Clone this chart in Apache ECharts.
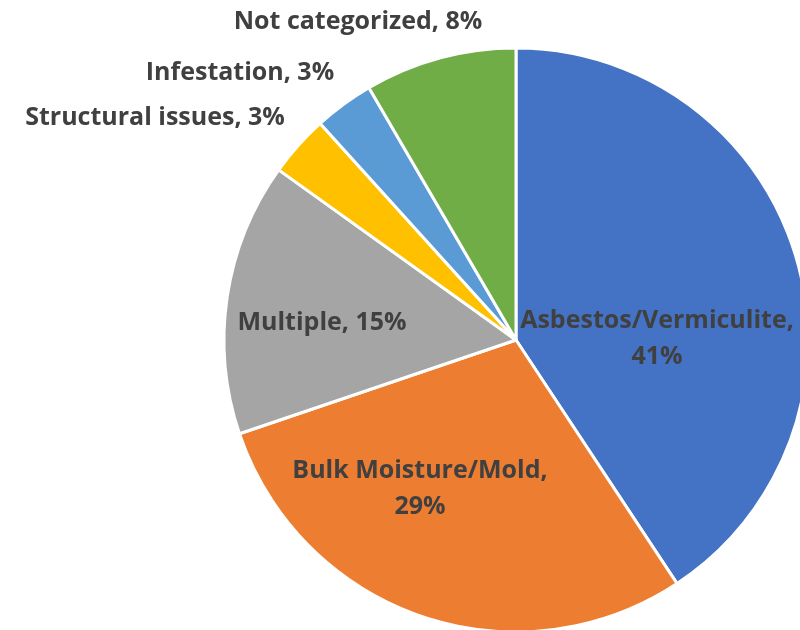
<!DOCTYPE html>
<html>
<head>
<meta charset="utf-8">
<script src="https://cdn.jsdelivr.net/npm/echarts@6/dist/echarts.min.js"></script>
<style>
    html, body {margin: 0; padding: 0; background: #fff;}
    #main {width: 800px; height: 630px;}
</style>
</head>
<body>
<div id="main"></div>
<script>
// data (slices go clockwise from 12 o'clock)
var categories = ['Asbestos/Vermiculite', 'Bulk Moisture/Mold', 'Multiple', 'Structural issues', 'Infestation', 'Not categorized'];
var shares = [40.7, 29.1, 15.1, 3.4, 3.3, 8.4];
var colors = ['#4472C4', '#ED7D31', '#A5A5A5', '#FFC000', '#5B9BD5', '#70AD47'];

// where Excel put each label (centre of the text block)
var labelPos = {
    'Asbestos/Vermiculite': [657, 339],
    'Bulk Moisture/Mold': [420, 489],
    'Multiple': [322, 323],
    'Structural issues': [155, 118],
    'Infestation': [240, 73],
    'Not categorized': [358, 22]
};
// labels that Excel wrapped onto two lines
var wrapped = {'Asbestos/Vermiculite': true, 'Bulk Moisture/Mold': true};

var myChart = echarts.init(document.getElementById('main'));

var pieData = [];
for (var i = 0; i < categories.length; i++) {
    pieData.push({name: categories[i], value: shares[i], itemStyle: {color: colors[i]}});
}

var option = {
    animation: false,
    series: [
        {
            type: 'pie',
            center: [516, 340],
            radius: 292,
            startAngle: 90,
            clockwise: true,
            data: pieData,
            itemStyle: {borderColor: '#fff', borderWidth: 3},
            label: {
                show: true,
                position: 'inside',
                fontFamily: 'Open Sans',
                fontWeight: 'bold',
                fontSize: 25,
                color: '#404040',
                lineHeight: 36,
                align: 'center',
                formatter: function (p) {
                    var pct = Math.round(p.percent) + '%';
                    return wrapped[p.name] ? p.name + ',\n' + pct : p.name + ', ' + pct;
                }
            },
            labelLine: {show: false},
            labelLayout: function (params) {
                var pos = labelPos[categories[params.dataIndex]];
                return {x: pos[0], y: pos[1], align: 'center', verticalAlign: 'middle'};
            }
        }
    ]
};
myChart.setOption(option);
</script>
</body>
</html>
